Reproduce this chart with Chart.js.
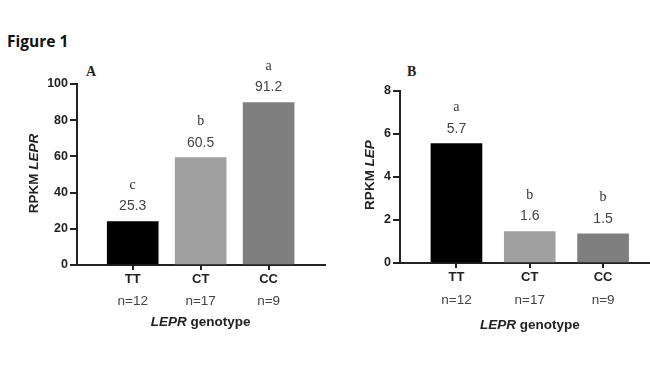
<!DOCTYPE html>
<html>
<head>
<meta charset="utf-8">
<script src="https://cdn.jsdelivr.net/npm/chart.js@4/dist/chart.umd.min.js"></script>
<style>
  html, body { margin: 0; padding: 0; background: #ffffff; }
  body { width: 650px; height: 365px; position: relative; overflow: hidden; }
  .box { position: absolute; top: 0; height: 365px; }
  #boxA { left: 0; width: 330px; }
  #boxB { left: 330px; width: 320px; }
  .fig { position: absolute; left: 7px; top: 30px; font-family: "Open Sans", sans-serif; font-weight: 700; font-size: 15.5px; color: #111; }
  .panel { position: absolute; font-family: "Liberation Serif", serif; font-weight: 700; font-size: 14px; color: #222; }
</style>
</head>
<body>
<div class="fig">Figure 1</div>
<div class="panel" style="left:86px; top:64px;">A</div>
<div class="panel" style="left:407px; top:64px;">B</div>
<div class="box" id="boxA"><canvas id="chartA" width="330" height="365"></canvas></div>
<div class="box" id="boxB"><canvas id="chartB" width="320" height="365"></canvas></div>
<script>
// ---- data ----
const categories = ['TT', 'CT', 'CC'];
const sampleSizes = ['n=12', 'n=17', 'n=9'];
const barColors = ['#000000', '#a0a0a0', '#7f7f7f'];

// Panel A: RPKM LEPR
const leprValues = [24.0, 59.3, 89.8];
const leprLabels = ['25.3', '60.5', '91.2'];
const leprLetters = ['c', 'b', 'a'];
const leprTicks = [0, 20, 40, 60, 80, 100];

// Panel B: RPKM LEP
const lepValues = [5.55, 1.46, 1.36];
const lepLabels = ['5.7', '1.6', '1.5'];
const lepLetters = ['a', 'b', 'b'];
const lepTicks = [0, 2, 4, 6, 8];

const AXIS = '#222222';
const SANS = '"Liberation Sans", Arial, sans-serif';

const annotPlugin = {
  id: 'annot',
  afterDatasetsDraw(chart) {
    const o = chart.options.plugins.annot;
    const ctx = chart.ctx;
    const meta = chart.getDatasetMeta(0);
    const xs = chart.scales.x;
    const ys = chart.scales.y;
    const base = ys.getPixelForValue(0);
    ctx.save();
    ctx.textAlign = 'center';
    ctx.textBaseline = 'middle';
    meta.data.forEach((bar, i) => {
      ctx.fillStyle = '#444444';
      ctx.font = '14px ' + SANS;
      ctx.fillText(o.labels[i], bar.x, bar.y - 15);
      ctx.fillStyle = '#333333';
      ctx.font = '14px "Liberation Serif", serif';
      ctx.fillText(o.letters[i], bar.x, bar.y - 36);
    });
    // sample sizes under category labels
    ctx.fillStyle = '#444444';
    ctx.font = '13.5px ' + SANS;
    categories.forEach((c, i) => {
      ctx.fillText(sampleSizes[i], xs.getPixelForValue(i), base + o.nOffset);
    });
    // x title: italic gene + bold "genotype"
    const cx = xs.getPixelForValue(1);
    const ty = base + o.xTitleOffset;
    const f1 = 'italic bold 13.5px ' + SANS;
    const f2 = 'bold 13.5px ' + SANS;
    ctx.fillStyle = '#222222';
    ctx.font = f1; const w1 = ctx.measureText(o.xTitle[0]).width;
    ctx.font = f2; const w2 = ctx.measureText(o.xTitle[1]).width;
    let x0 = cx - (w1 + w2) / 2;
    ctx.textAlign = 'left';
    ctx.font = f1; ctx.fillText(o.xTitle[0], x0, ty);
    ctx.font = f2; ctx.fillText(o.xTitle[1], x0 + w1, ty);
    // y title rotated
    const cy = (chart.chartArea.top + chart.chartArea.bottom) / 2 + o.yTitleDy;
    ctx.translate(o.yTitleX, cy);
    ctx.rotate(-Math.PI / 2);
    ctx.font = f2; const v1 = ctx.measureText(o.yTitle[0]).width;
    ctx.font = f1; const v2 = ctx.measureText(o.yTitle[1]).width;
    x0 = -(v1 + v2) / 2;
    ctx.font = f2; ctx.fillText(o.yTitle[0], x0, 0);
    ctx.font = f1; ctx.fillText(o.yTitle[1], x0 + v1, 0);
    ctx.restore();
  }
};

function makeChart(id, values, labels, letters, ticks, cfg) {
  const yMax = ticks[ticks.length - 1];
  return new Chart(document.getElementById(id), {
    type: 'bar',
    data: {
      datasets: [{
        data: values.map((v, i) => ({ x: i, y: v })),
        backgroundColor: barColors,
        borderWidth: 0,
        barThickness: 51,
        xAxisID: 'x',
        yAxisID: 'y'
      }]
    },
    options: {
      responsive: false,
      animation: false,
      events: [],
      layout: { padding: cfg.padding },
      plugins: {
        legend: { display: false },
        tooltip: { enabled: false },
        annot: {
          labels: labels, letters: letters,
          xTitle: cfg.xTitle, yTitle: cfg.yTitle, nOffset: cfg.nOffset,
          xTitleOffset: cfg.xTitleOffset, yTitleX: cfg.yTitleX, yTitleDy: cfg.yTitleDy
        }
      },
      scales: {
        x: {
          type: 'linear', position: 'bottom',
          offset: false, bounds: 'data',
          min: cfg.xMin, max: cfg.xMax,
          afterBuildTicks: s => { s.ticks = categories.map((c, i) => ({ value: i })); },
          afterFit: s => { s.height = 46; },
          grid: { offset: false, drawOnChartArea: false, drawTicks: true, tickLength: 5, color: AXIS, lineWidth: 2 },
          border: { display: true, color: AXIS, width: 2 },
          ticks: {
            padding: 2,
            maxRotation: 0,
            color: '#222222',
            font: { family: SANS, size: 13, weight: 'bold' },
            callback: v => categories[v]
          }
        },
        y: {
          min: 0, max: yMax,
          afterBuildTicks: s => { s.ticks = ticks.map(t => ({ value: t })); },
          afterFit: s => { s.width = cfg.yWidth; },
          grid: { drawOnChartArea: false, drawTicks: true, tickLength: 7, color: AXIS, lineWidth: 2 },
          border: { display: true, color: AXIS, width: 2 },
          ticks: {
            padding: 2,
            color: '#222222',
            font: { family: SANS, size: 12.5, weight: 'bold' }
          }
        }
      }
    },
    plugins: [annotPlugin]
  });
}

makeChart('chartA', leprValues, leprLabels, leprLetters, leprTicks, {
  padding: { left: 0, right: 5, top: 84, bottom: 54 },
  yWidth: 77, xMin: -0.82, xMax: 2.83,
  xTitle: ['LEPR', ' genotype'], yTitle: ['RPKM ', 'LEPR'],
  nOffset: 36, xTitleOffset: 57, yTitleX: 34, yTitleDy: -1
});
makeChart('chartB', lepValues, lepLabels, lepLetters, lepTicks, {
  padding: { left: 0, right: 0, top: 91, bottom: 56 },
  yWidth: 70, xMin: -0.77, xMax: 2.64,
  xTitle: ['LEPR', ' genotype'], yTitle: ['RPKM ', 'LEP'],
  nOffset: 37, xTitleOffset: 62, yTitleX: 40, yTitleDy: -2
});
</script>
</body>
</html>
